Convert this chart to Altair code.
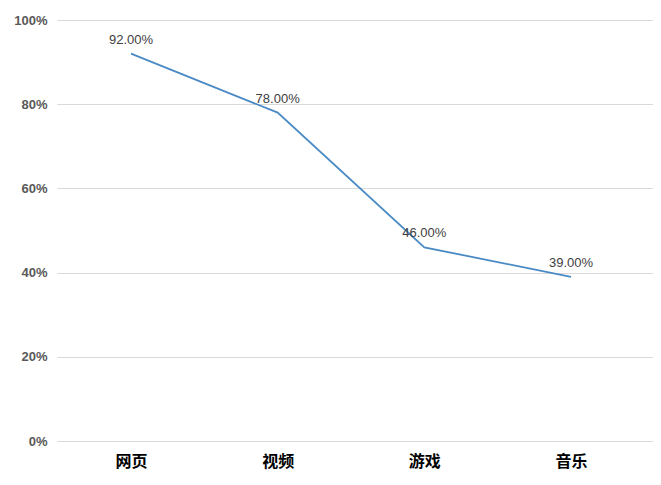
import altair as alt
import pandas as pd

categories = ["网页", "视频", "游戏", "音乐"]
values = [0.92, 0.78, 0.46, 0.39]
labels = ["92.00%", "78.00%", "46.00%", "39.00%"]

df = pd.DataFrame({"idx": list(range(len(categories))), "cat": categories,
                   "val": values, "lab": labels})

label_expr = "[" + ",".join("'%s'" % c for c in categories) + "][datum.value]"

x = alt.X("idx:Q", title=None,
          scale=alt.Scale(domain=[-0.5045, 3.559], nice=False, zero=False),
          axis=alt.Axis(values=list(range(len(categories))), labelExpr=label_expr,
                        labelAngle=0, labelFont="Noto Sans CJK SC", labelFontWeight="bold",
                        labelFontSize=16, labelColor="#000000", labelPadding=12,
                        labelFlush=False, labelOverlap=False,
                        ticks=False, domain=False, grid=False))
y = alt.Y("val:Q", title=None, scale=alt.Scale(domain=[0, 1], nice=False),
          axis=alt.Axis(format=".0%", values=[0, 0.2, 0.4, 0.6, 0.8, 1.0],
                        labelFont="Liberation Sans", labelFontWeight="bold", labelFontSize=13,
                        labelColor="#595959", labelPadding=10, ticks=False, domain=False,
                        gridColor="#d9d9d9", gridWidth=1))

line = alt.Chart(df).mark_line(color="#4a8ac4", strokeWidth=1.8).encode(x=x, y=y)
text = alt.Chart(df).mark_text(dy=-14, font="Liberation Sans", fontSize=13, color="#404040").encode(
    x=x, y=y, text="lab:N")

chart = alt.layer(line, text).properties(
    width=596, height=421,
    background="#ffffff",
    autosize=alt.AutoSizeParams(type="none"),
    padding={"left": 49, "top": 12, "right": 0, "bottom": 40},
).configure_view(strokeWidth=0, stroke="transparent")

chart.save("out.html", embed_options={"renderer": "svg", "actions": False})
